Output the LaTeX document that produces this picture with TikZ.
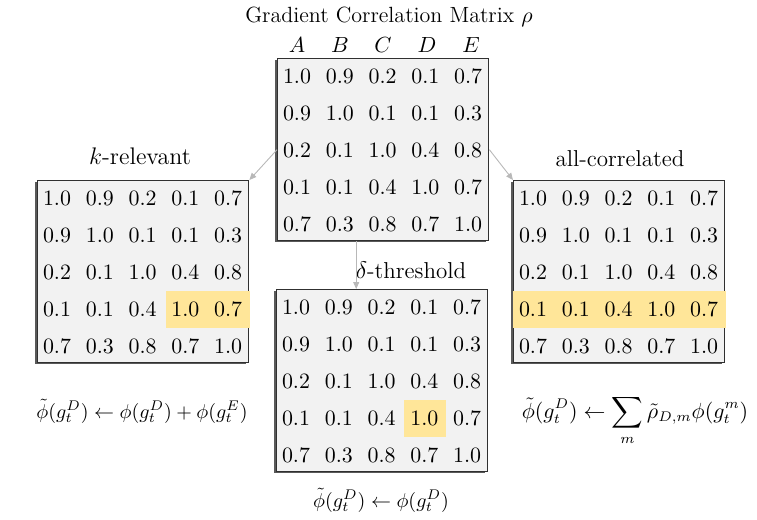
\documentclass[tikz,border=0pt]{standalone}
\usepackage{amsmath}
\usetikzlibrary{arrows.meta,calc}
\definecolor{hlcol}{HTML}{FFE699}
\definecolor{boxfill}{HTML}{F2F2F2}
\definecolor{boxline}{HTML}{303030}
\tikzset{
  mbox/.style={draw=boxline, fill=boxfill, line width=0.7pt, minimum width=105.5pt, minimum height=91pt, inner sep=0pt, anchor=north west},
  cell/.style={inner sep=0pt, anchor=base, font=\fontsize{11}{13}\selectfont},
  lbl/.style={inner sep=0pt, anchor=base},
  sublbl/.style={inner sep=0pt, anchor=base, font=\fontsize{11.5}{13}\selectfont},
  arr/.style={draw=black!28, line width=0.45pt, -{Triangle[length=3.5pt,width=3pt]}},
}
\newcommand{\corrmat}[3]{% name, x, y
  \fill[black!65] (#2-1.6,#3+1.6) rectangle ++(211,182);
  \node[mbox] (#1) at (#2,#3) {};
}
\newcommand{\matvals}[2]{%
  \begin{scope}[shift={(#1,#2)}]
    \foreach \row [count=\i] in {{1.0,0.9,0.2,0.1,0.7},{0.9,1.0,0.1,0.1,0.3},{0.2,0.1,1.0,0.4,0.8},{0.1,0.1,0.4,1.0,0.7},{0.7,0.3,0.8,0.7,1.0}}{
      \foreach \v [count=\j] in \row {
        \node[cell] (c\i\j) at ({20+(\j-1)*42.8},{25+(\i-1)*37}) {$\v$};
      }
    }
  \end{scope}
}
\begin{document}
\begin{tikzpicture}[x=0.5pt,y=-0.5pt]
\useasboundingbox (0,0) rectangle (757,520);
% title
\node[lbl, font=\fontsize{11}{13}\selectfont] (title) at (389,22) {Gradient Correlation Matrix $\rho$};
\foreach \c/\xx in {A/297,B/340,C/383,D/427,E/471}{
  \node[cell] (h\c) at (\xx,52) {$\c$};
}
% matrices
\corrmat{top}{277}{58}
\matvals{277}{58}
\corrmat{left}{37}{180}
\fill[hlcol] (165.5,291) rectangle (249.6,328);
\matvals{37}{180}
\corrmat{right}{513}{180}
\fill[hlcol] (513.4,291) rectangle (725.6,328);
\matvals{513}{180}
\corrmat{bot}{276}{289}
\fill[hlcol] (404,400) rectangle (446,437);
\matvals{276}{289}
% labels
\node[sublbl, font=\fontsize{12}{14}\selectfont] (klab) at (140,164) {$k$-relevant};
\node[sublbl] (alab) at (620,166) {all-correlated};
\node[sublbl] (dlab) at (411,278) {$\delta$-threshold};
% formulas
\node[lbl, font=\fontsize{10.3}{12}\selectfont] (fl) at (142,418) {$\tilde{\phi}(g_t^D) \leftarrow \phi(g_t^D) + \phi(g_t^E)$};
\node[lbl, font=\fontsize{10.3}{12}\selectfont] (fb) at (381,507) {$\tilde{\phi}(g_t^D) \leftarrow \phi(g_t^D)$};
\node[lbl, font=\fontsize{10.7}{12}\selectfont] (fr) at (635,418) {$\displaystyle \tilde{\phi}(g_t^D) \leftarrow \sum_{m} \tilde{\rho}_{D,m}\phi(g_t^m)$};
% arrows
\coordinate (a1) at ($(top.south)+(-27,0)$);
\coordinate (a2) at (a1 |- bot.north);
\draw[arr] (top.west) -- (left.north east);
\draw[arr] (top.east) -- (right.north west);
\draw[arr] (a1) -- (a2);
\end{tikzpicture}
\end{document}
